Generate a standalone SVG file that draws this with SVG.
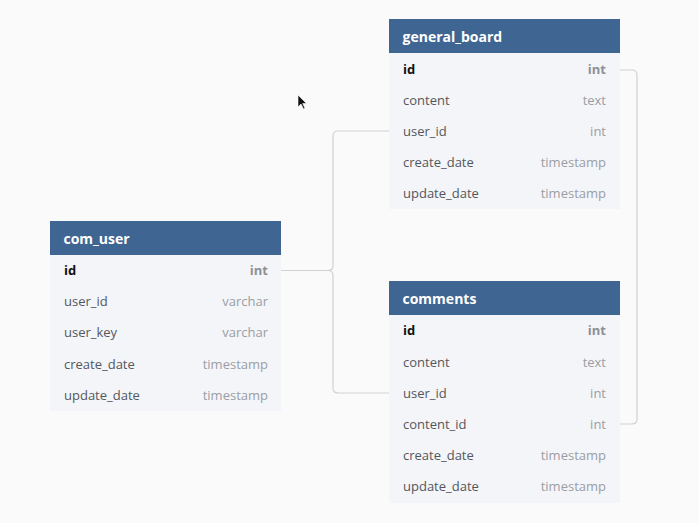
<svg xmlns="http://www.w3.org/2000/svg" width="699" height="523" viewBox="0 0 699 523">
<style>
.hd{fill:#3f6592}
.bd{fill:#f4f5f8}
.ht{font-family:"Open Sans",sans-serif;font-size:14px;font-weight:bold;fill:#ffffff}
.n{font-family:"Open Sans",sans-serif;font-size:13px;fill:#53575d}
.t{font-family:"Open Sans",sans-serif;font-size:13px;fill:#9a9ea4;text-anchor:end}
.nk{font-family:"Open Sans",sans-serif;font-size:13px;font-weight:bold;fill:#111111}
.tk{font-family:"Open Sans",sans-serif;font-size:13px;font-weight:bold;fill:#8c9096;text-anchor:end}
.c{fill:none;stroke:#cfd1d5;stroke-width:1.2}
</style>
<rect width="699" height="523" fill="#fafafa"/>
<g id="connectors">
<path class="c" d="M281,270.5 H328 Q333,270.5 333,265.5 V136 Q333,131 338,131 H389"/>
<path class="c" d="M281,270.5 H328 Q333,270.5 333,275.5 V388 Q333,393 338,393 H389"/>
<path class="c" d="M620,70 H632 Q637,70 637,75 V419 Q637,424 632,424 H620"/>
</g>
<g id="general_board">
<rect class="bd" x="389" y="53" width="231" height="156"/>
<rect class="hd" x="389" y="19" width="231" height="34"/>
<text class="ht" x="402.5" y="41.5">general_board</text>
<text class="nk" x="403" y="74">id</text><text class="tk" x="606" y="74">int</text>
<text class="n" x="403" y="105">content</text><text class="t" x="606" y="105">text</text>
<text class="n" x="403" y="136">user_id</text><text class="t" x="606" y="136">int</text>
<text class="n" x="403" y="167">create_date</text><text class="t" x="606" y="167">timestamp</text>
<text class="n" x="403" y="198">update_date</text><text class="t" x="606" y="198">timestamp</text>
</g>
<g id="com_user">
<rect class="bd" x="50" y="255" width="231" height="156"/>
<rect class="hd" x="50" y="221" width="231" height="34"/>
<text class="ht" x="63.5" y="243.5">com_user</text>
<text class="nk" x="64" y="275">id</text><text class="tk" x="268" y="275">int</text>
<text class="n" x="64" y="306">user_id</text><text class="t" x="268" y="306">varchar</text>
<text class="n" x="64" y="337">user_key</text><text class="t" x="268" y="337">varchar</text>
<text class="n" x="64" y="369">create_date</text><text class="t" x="268" y="369">timestamp</text>
<text class="n" x="64" y="400">update_date</text><text class="t" x="268" y="400">timestamp</text>
</g>
<g id="comments">
<rect class="bd" x="389" y="315" width="231" height="188"/>
<rect class="hd" x="389" y="281" width="231" height="34"/>
<text class="ht" x="402.5" y="303.5">comments</text>
<text class="nk" x="403" y="335">id</text><text class="tk" x="606" y="335">int</text>
<text class="n" x="403" y="367">content</text><text class="t" x="606" y="367">text</text>
<text class="n" x="403" y="398">user_id</text><text class="t" x="606" y="398">int</text>
<text class="n" x="403" y="429">content_id</text><text class="t" x="606" y="429">int</text>
<text class="n" x="403" y="460">create_date</text><text class="t" x="606" y="460">timestamp</text>
<text class="n" x="403" y="491">update_date</text><text class="t" x="606" y="491">timestamp</text>
</g>
<path d="M298,95 V107 L301,104 L303.5,109 L305,108.3 L302.7,103.5 L306.5,103.5 Z" fill="#111" stroke="#fff" stroke-width="0.6"/>
</svg>
